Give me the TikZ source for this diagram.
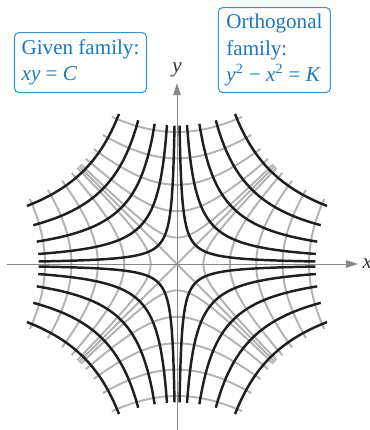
\documentclass[tikz,border=0pt]{standalone}
\usepackage{fontspec}
\setmainfont{Liberation Serif}
\usepackage{tikz}
\usetikzlibrary{arrows.meta,positioning}
\definecolor{famblue}{RGB}{25,120,190}
\definecolor{boxblue}{RGB}{60,145,205}
\definecolor{gridgray}{RGB}{178,178,178}
\definecolor{axisgray}{RGB}{135,135,135}
\newcommand{\ivar}[1]{\textit{#1}}
\newcommand{\wmax}{4.4}

\begin{document}
\begin{tikzpicture}[
  x=1.32cm, y=1.32cm,
  >={Triangle[length=2.4mm,width=1.5mm]},
  axis/.style={->,axisgray,line width=0.55pt},
  given/.style={line width=1.4pt,black!88},
  ortho/.style={line width=1.1pt,gridgray},
  famlabel/.style={draw=boxblue,fill=white,rounded corners=2.5pt,line width=0.6pt,
    text=famblue,align=left,font=\fontsize{12}{15}\selectfont,inner sep=3pt,anchor=south west},
  axlbl/.style={font=\fontsize{12}{14}\selectfont\itshape,inner sep=1pt,black!80}
]
\useasboundingbox (-2.682,-2.515) rectangle (2.924,4.0);

% ---- orthogonal family y^2-x^2=K (gray) ----
\foreach \v in {0.16,0.64,1.44,2.56,4}{
  \pgfmathsetmacro{\hypa}{sqrt(\v)}
  \pgfmathsetmacro{\hypu}{\wmax/\v}
  \pgfmathsetmacro{\hypT}{ln(\hypu+sqrt(\hypu*\hypu+1))/2}
  \foreach \sg in {1,-1}{
    \draw[ortho] plot[domain=-\hypT:\hypT,samples=50,smooth] ({\sg*\hypa*cosh(\x)},{\hypa*sinh(\x)});
    \draw[ortho] plot[domain=-\hypT:\hypT,samples=50,smooth] ({\hypa*sinh(\x)},{\sg*\hypa*cosh(\x)});
  }
}
% K=0: the two diagonals
\draw[ortho] (-1.483,-1.483) -- (1.483,1.483);
\draw[ortho] (-1.483,1.483) -- (1.483,-1.483);

% ---- axes ----
\coordinate (xstart) at (-2.58,0);
\coordinate (xtip) at (2.74,0);
\coordinate (ystart) at (0,-2.515);
\coordinate (ytip) at (0,2.74);
\draw[axis] (xstart) -- (xtip);
\draw[axis] (ystart) -- (ytip);
\node[axlbl,right=1.5pt of xtip] (xlbl) {x};
\node[axlbl,above=2pt of ytip] (ylbl) {y};

% ---- given family xy=C (black) ----
\foreach \v in {0.16,0.64,1.44,2.56,4}{
  \pgfmathsetmacro{\hypa}{sqrt(\v/2)}
  \pgfmathsetmacro{\hypu}{\wmax/\v}
  \pgfmathsetmacro{\hypT}{ln(\hypu+sqrt(\hypu*\hypu+1))/2}
  \foreach \sx/\sy in {1/1,-1/1,-1/-1,1/-1}{
    \draw[given] plot[domain=-\hypT:\hypT,samples=60,smooth] ({\sx*\hypa*exp(\x)},{\sy*\hypa*exp(-\x)});
  }
}

% ---- labels ----
\node[famlabel,minimum width=2.64cm,minimum height=1.2cm] (givenbox) at (-2.47,2.59)
  {Given family:\\ \ivar{xy} = \ivar{C}};
\node[famlabel,minimum width=2.24cm,minimum height=1.7cm] (orthobox) at (0.62,2.59)
  {Orthogonal\\ family:\\ \ivar{y}\textsuperscript{2} − \ivar{x}\textsuperscript{2} = \ivar{K}};

\end{tikzpicture}
\end{document}
